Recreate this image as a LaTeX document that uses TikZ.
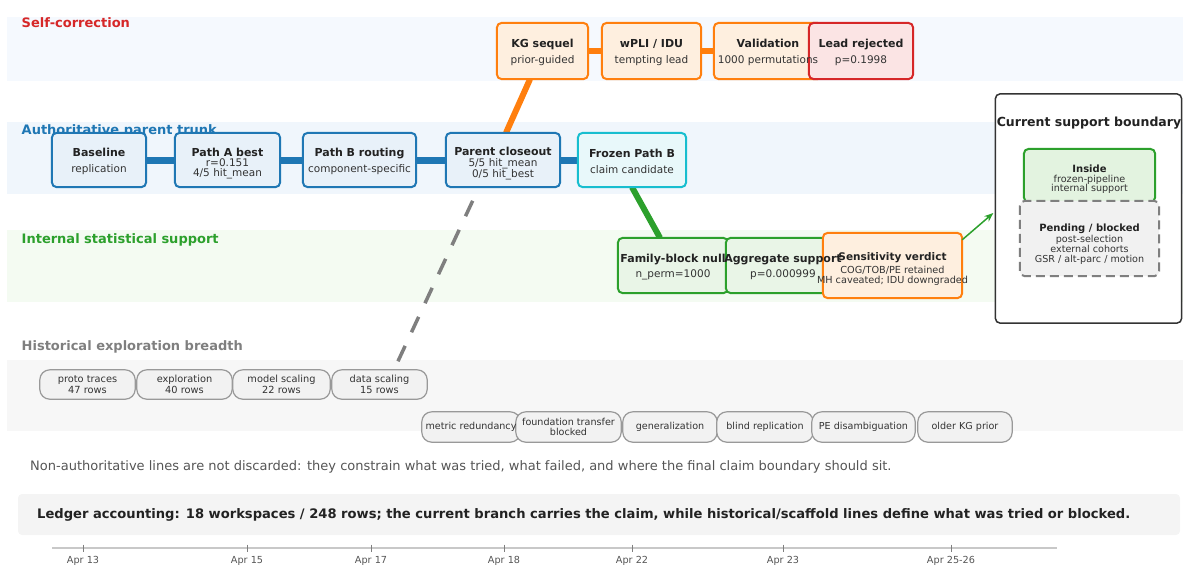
\documentclass[tikz,border=0pt]{standalone}
\usepackage{fontspec}
\setmainfont{DejaVu Sans}
\usetikzlibrary{arrows.meta}
\definecolor{cblue}{HTML}{1F77B4}
\definecolor{cbluefill}{HTML}{E8F1F9}
\definecolor{ccyan}{HTML}{17BECF}
\definecolor{ccyanfill}{HTML}{E8F8FA}
\definecolor{corange}{HTML}{FF7F0E}
\definecolor{corangefill}{HTML}{FEEFDF}
\definecolor{cred}{HTML}{D62728}
\definecolor{credfill}{HTML}{FBE4E4}
\definecolor{cgreen}{HTML}{2CA02C}
\definecolor{cgreenfill}{HTML}{E9F5E7}
\definecolor{cinsidefill}{HTML}{E3F3E0}
\definecolor{cgray}{HTML}{7F7F7F}
\definecolor{pillborder}{HTML}{999999}
\definecolor{pillfill}{HTML}{F2F2F2}
\definecolor{pendfill}{HTML}{F1F1F1}
\definecolor{selfband}{HTML}{F5F9FE}
\definecolor{trunkband}{HTML}{F0F6FC}
\definecolor{intband}{HTML}{F4FBF2}
\definecolor{histband}{HTML}{F7F7F7}
\definecolor{ledgerfill}{HTML}{F4F4F4}
\definecolor{ink}{HTML}{222222}
\definecolor{subink}{HTML}{333333}
\definecolor{noteink}{HTML}{555555}
\definecolor{darkedge}{HTML}{333333}
\definecolor{tlgray}{HTML}{C8C8C8}
\pgfdeclarelayer{bands}
\pgfdeclarelayer{lines}
\pgfdeclarelayer{boxes}
\pgfsetlayers{bands,lines,boxes,main}
\newcommand{\fs}[2]{\fontsize{#1pt}{#2pt}\selectfont}
\newcommand{\boxit}[2]{\path[#1] (#2.north west) rectangle (#2.south east);}
\newcommand{\z}[1]{\makebox[0pt][c]{#1}}
\newcommand{\tstrut}[1]{\rule{0pt}{#1pt}}
\tikzset{
  txt/.style={inner sep=0pt, align=center, text=subink},
  bandlabel/.style={inner sep=0pt, anchor=base west, font=\fs{13}{15}\bfseries},
  boxshape/.style={rounded corners=5pt, line width=2pt},
  bluebox/.style={boxshape, draw=cblue, fill=cbluefill},
  cyanbox/.style={boxshape, draw=ccyan, fill=ccyanfill},
  orangebox/.style={boxshape, draw=corange, fill=corangefill},
  redbox/.style={boxshape, draw=cred, fill=credfill},
  greenbox/.style={boxshape, draw=cgreen, fill=cgreenfill},
  insidebox/.style={boxshape, draw=cgreen, fill=cinsidefill},
  pendbox/.style={rounded corners=5pt, line width=2pt, draw=cgray, fill=pendfill, dash pattern=on 9pt off 5pt},
  boundbox/.style={rounded corners=5pt, line width=1.5pt, draw=darkedge, fill=white},
  pill/.style={rounded corners=10pt, line width=1.2pt, draw=pillborder, fill=pillfill},
  trunkline/.style={line width=7pt, draw=cblue},
  orangeline/.style={line width=5.5pt, draw=corange},
  orangediag/.style={line width=6pt, draw=corange},
  greenline/.style={line width=6pt, draw=cgreen},
  grayline/.style={line width=3.5pt, draw=cgray, dash pattern=on 17pt off 15pt, dash phase=17pt},
  garrow/.style={line width=1.5pt, draw=cgreen, -{Stealth[length=9pt,width=7pt]}},
  tick/.style={line width=0.9pt, draw=cgray},
  tlab/.style={inner sep=0pt, text=noteink, font=\fs{9.7}{11}},
}
\newcommand{\ttl}[1]{{\fs{11}{13}\bfseries\color{ink}#1}}
\begin{document}
\begin{tikzpicture}[x=1pt,y=-1pt]
\useasboundingbox (0,0) rectangle (1183,566);

% ---------- text-bearing nodes ----------
% self-correction
\node[txt, minimum width=91pt, minimum height=56pt, font=\fs{10.5}{10.4}] (kg) at (542.5,51) {\tstrut{11}\ttl{KG sequel}\\[5.5pt]prior-guided};
\node[txt, minimum width=99pt, minimum height=56pt, font=\fs{10.5}{10.4}] (wp) at (651.5,51) {\tstrut{11}\ttl{wPLI / IDU}\\[5.5pt]tempting lead};
\node[txt, minimum width=108pt, minimum height=56pt, font=\fs{10.5}{10.4}] (val) at (768,51) {\tstrut{11}\ttl{Validation}\\[5.5pt]\z{1000 permutations}};
\node[txt, minimum width=104pt, minimum height=56pt, font=\fs{10.5}{10.4}] (rej) at (861,51) {\tstrut{11}\ttl{Lead rejected}\\[5.5pt]p=0.1998};
% trunk
\node[txt, minimum width=94pt, minimum height=54pt, font=\fs{10.5}{10.4}] (base) at (99,160) {\tstrut{11}\ttl{Baseline}\\[5.5pt]replication};
\node[txt, minimum width=105pt, minimum height=54pt, font=\fs{10.5}{10.2}] (pa) at (227.5,160) {\tstrut{15.5}\ttl{Path A best}\\r=0.151\\4/5 hit\_mean};
\node[txt, minimum width=113pt, minimum height=54pt, font=\fs{10.5}{10.4}] (pb) at (359.5,160) {\tstrut{11}\ttl{Path B routing}\\[5.5pt]component-specific};
\node[txt, minimum width=114pt, minimum height=54pt, font=\fs{10.5}{10.2}] (pc) at (503,160) {\tstrut{16}\ttl{Parent closeout}\\5/5 hit\_mean\\0/5 hit\_best};
\node[txt, minimum width=108pt, minimum height=54pt, font=\fs{10.5}{10.4}] (fz) at (632,160) {\tstrut{11}\ttl{Frozen Path B}\\[5.5pt]claim candidate};
% internal support
\node[txt, minimum width=110pt, minimum height=55pt, font=\fs{10.5}{10.4}] (fam) at (673,265.5) {\tstrut{11.5}\z{\ttl{Family-block null}}\\[4.5pt]n\_perm=1000};
\node[txt, minimum width=114pt, minimum height=55pt, font=\fs{10.5}{10.4}] (agg) at (783,265.5) {\tstrut{11.5}\z{\ttl{Aggregate support}}\\[4.5pt]p=0.000999};
\node[txt, minimum width=139pt, minimum height=65pt, font=\fs{9.7}{10}] (sens) at (892.5,265.5) {\tstrut{14.5}\z{\fs{10.5}{12}\bfseries\color{ink}Sensitivity verdict}\\[3.3pt]\z{COG/TOB/PE retained}\\\z{MH caveated; IDU downgraded}};
% boundary panel
\node[txt, minimum width=186pt, minimum height=229pt] (bound) at (1088.5,208.5) {};
\node[txt, font=\fs{12.5}{14}\bfseries, text=ink] (boundtitle) at (1089,123) {Current support boundary};
\node[txt, minimum width=131pt, minimum height=53pt, font=\fs{9.6}{9.8}] (inside) at (1089.5,175.5) {\tstrut{15}{\fs{10}{11}\bfseries\color{ink}Inside}\\[0.3pt]frozen-pipeline\\internal support};
\node[txt, minimum width=139pt, minimum height=75pt, font=\fs{9.6}{10}] (pend) at (1089.5,238.5) {\tstrut{19}{\fs{10}{11}\bfseries\color{ink}Pending / blocked}\\[1.6pt]post-selection\\external cohorts\\GSR / alt-parc / motion};
% historical pills row 1
\node[txt, minimum width=95pt, minimum height=29pt, font=\fs{9.8}{11.5}] (p1) at (87.5,384.5) {proto traces\\47 rows};
\node[txt, minimum width=95pt, minimum height=29pt, font=\fs{9.8}{11.5}] (p2) at (184.5,384.5) {exploration\\40 rows};
\node[txt, minimum width=97pt, minimum height=29pt, font=\fs{9.8}{11.5}] (p3) at (281.5,384.5) {model scaling\\22 rows};
\node[txt, minimum width=95pt, minimum height=29pt, font=\fs{9.8}{11.5}] (p4) at (379.5,384.5) {data scaling\\15 rows};
% historical pills row 2
\node[txt, minimum width=98pt, minimum height=30pt, font=\fs{9.6}{10.7}] (q1) at (471,427) {\z{metric redundancy}};
\node[txt, minimum width=105pt, minimum height=30pt, font=\fs{9.6}{10.7}] (q2) at (568.5,427) {\z{foundation transfer}\\blocked};
\node[txt, minimum width=94pt, minimum height=30pt, font=\fs{9.6}{10.7}] (q3) at (670,427) {generalization};
\node[txt, minimum width=96pt, minimum height=30pt, font=\fs{9.6}{10.7}] (q4) at (765,427) {\z{blind replication}};
\node[txt, minimum width=103pt, minimum height=30pt, font=\fs{9.6}{10.7}] (q5) at (863.5,427) {\z{PE disambiguation}};
\node[txt, minimum width=94pt, minimum height=30pt, font=\fs{9.6}{10.7}] (q6) at (965,427) {older KG prior};
% footer texts
\node[inner sep=0pt, anchor=west, text=noteink, font=\fs{13}{15}] (note) at (30,467) {Non-authoritative lines are not discarded: they constrain what was tried, what failed, and where the final claim boundary should sit.};
\node[inner sep=0pt, anchor=west, text=ink, font=\fs{13.1}{15}\bfseries] (ledger) at (37,514.5) {Ledger accounting: 18 workspaces / 248 rows; the current branch carries the claim, while historical/scaffold lines define what was tried or blocked.};

% ---------- bands and band labels ----------
\begin{pgfonlayer}{bands}
\fill[selfband] (7,17) rectangle (1183,81);
\fill[trunkband] (7,122) rectangle (1183,194);
\fill[intband] (7,230) rectangle (1183,302);
\fill[histband] (7,360) rectangle (1183,431);
\fill[ledgerfill, rounded corners=4pt] (18,494) rectangle (1180,535);
\node[bandlabel, text=cred] (lself) at (21.5,27.8) {Self-correction};
\node[bandlabel, text=cblue] (ltrunk) at (21.5,134.8) {Authoritative parent trunk};
\node[bandlabel, text=cgreen] (lint) at (21.5,243.8) {Internal statistical support};
\node[bandlabel, text=cgray] (lhist) at (21.5,350.8) {Historical exploration breadth};
% timeline
\draw[tlgray, line width=1.5pt] (52,548) -- (1057,548);
\foreach \x/\lab/\n in {83/Apr 13/t1, 247/Apr 15/t2, 371/Apr 17/t3, 504/Apr 18/t4, 632/Apr 22/t5, 783/Apr 23/t6, 951/Apr 25-26/t7}{
  \draw[tick] (\x,544.5) -- (\x,551.5);
  \node[tlab] (\n) at (\x,560.5) {\lab};
}
\end{pgfonlayer}

% ---------- connectors ----------
\begin{pgfonlayer}{lines}
\draw[trunkline] (base) -- (pa);
\draw[trunkline] (pa) -- (pb);
\draw[trunkline] (pb) -- (pc);
\draw[trunkline] (pc) -- (fz);
\draw[orangeline] (kg) -- (wp);
\draw[orangeline] (wp) -- (val);
\draw[orangediag] ([xshift=3pt]pc.north) -- ([xshift=-12.5pt]kg.south);
\draw[greenline] (fz.south) -- ([xshift=-13pt]fam.north);
\draw[grayline] ([xshift=-24pt]pc.south) -- ([xshift=14.5pt]p4.north);
\end{pgfonlayer}

% ---------- boxes ----------
\begin{pgfonlayer}{boxes}
\boxit{orangebox}{kg}
\boxit{orangebox}{wp}
\boxit{orangebox}{val}
\boxit{redbox}{rej}
\boxit{bluebox}{base}
\boxit{bluebox}{pa}
\boxit{bluebox}{pb}
\boxit{bluebox}{pc}
\boxit{cyanbox}{fz}
\boxit{greenbox}{fam}
\boxit{greenbox}{agg}
\boxit{orangebox}{sens}
\boxit{boundbox}{bound}
\boxit{insidebox}{inside}
\boxit{pendbox}{pend}
\boxit{pill}{p1}
\boxit{pill}{p2}
\boxit{pill}{p3}
\boxit{pill}{p4}
\boxit{pill}{q1}
\boxit{pill}{q2}
\boxit{pill}{q3}
\boxit{pill}{q4}
\boxit{pill}{q5}
\boxit{pill}{q6}
\draw[garrow] ([yshift=-7pt]sens.north east) -- ([xshift=-2pt,yshift=-4.5pt]bound.west);
\end{pgfonlayer}
\end{tikzpicture}
\end{document}
